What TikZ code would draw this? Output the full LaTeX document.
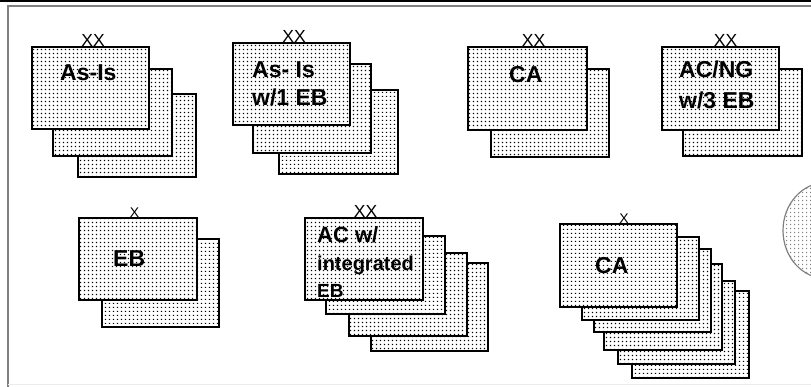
\documentclass[tikz,border=0pt]{standalone}
\usepackage{fontspec}
\setmainfont{Liberation Sans}
\usetikzlibrary{patterns,shapes.geometric}
\pgfdeclarepatternformonly{dotgrid}{\pgfpointorigin}{\pgfpoint{3.6pt}{3.6pt}}{\pgfpoint{3.6pt}{3.6pt}}{%
  \pgfpathrectangle{\pgfpoint{1.1pt}{1.1pt}}{\pgfpoint{1.35pt}{1.35pt}}\pgfusepath{fill}}
\begin{document}
\begin{tikzpicture}[x=1pt,y=-1pt,
  card/.style 2 args={draw=black, line width=1.6pt, preaction={fill=white},
    pattern=dotgrid, pattern color=black, inner sep=0pt, anchor=north west,
    minimum width=#1pt, minimum height=#2pt},
  lbl/.style={font=\fontsize{23}{26}\selectfont\bfseries, inner sep=0pt, anchor=base west},
  sublbl/.style={font=\fontsize{20}{22}\selectfont\bfseries, inner sep=0pt, anchor=base west},
  xxmark/.style={font=\fontsize{17.5}{18}\selectfont, inner sep=0pt, anchor=base},
  xmark/.style={font=\fontsize{14}{14}\selectfont, inner sep=0pt, anchor=base}]
\useasboundingbox (0,0) rectangle (811,386);
\clip (0,0) rectangle (811,386);
% frame
\fill[white] (0,0) rectangle (811,386);
\fill[black] (0,0) rectangle (811,2.3);
\draw[gray, line width=2pt] (8,390) -- (8,6) -- (815,6);
\draw[gray!15, line width=1pt] (8,384.5) -- (815,384.5);
% ellipse at the right edge
\node[ellipse, draw=gray, line width=1.2pt, preaction={fill=white}, pattern=dotgrid,
  pattern color=gray, minimum width=86pt, minimum height=96pt, inner sep=0pt] (ell) at (826,230.5) {};
% group 1: As-Is
\node[card={118}{83}] (a3) at (77,93) {};
\node[card={119}{87}] (a2) at (52,68) {};
\node[card={117}{82}] (a1) at (31,46) {};
\node[xxmark] (ax) at (93,46.5) {XX};
\node[lbl] (al) at (60,80) {As-Is};
% group 2: As-Is w/1 EB
\node[card={119}{84}] (b3) at (278,89) {};
\node[card={118}{89}] (b2) at (252,63) {};
\node[card={117}{82}] (b1) at (232,42) {};
\node[xxmark] (bx) at (294,42.5) {XX};
\node[lbl] (bl1) at (252,77) {As- Is};
\node[lbl] (bl2) at (252,105) {w/1 EB};
% group 3: CA
\node[card={118}{88}] (c2) at (490,68) {};
\node[card={119}{83}] (c1) at (467,46) {};
\node[xxmark] (cx) at (533.5,46.5) {XX};
\node[lbl] (cl) at (509,82) {CA};
% group 4: AC/NG w/3 EB
\node[card={119}{87}] (d2) at (682,68) {};
\node[card={117}{83}] (d1) at (661,46) {};
\node[xxmark] (dx) at (725.5,46.5) {XX};
\node[lbl] (dl1) at (679,77) {AC/NG};
\node[lbl] (dl2) at (679,108) {w/3 EB};
% group 5: EB
\node[card={117}{88}] (e2) at (101,238) {};
\node[card={118}{82}] (e1) at (78,217) {};
\node[xmark] (ex) at (134.5,217.5) {X};
\node[lbl] (el) at (113,266) {EB};
% group 6: AC w/ integrated EB
\node[card={117}{88}] (f4) at (370,262) {};
\node[card={118}{83}] (f3) at (348,252) {};
\node[card={119}{78}] (f2) at (325,235) {};
\node[card={118}{82}] (f1) at (304,217) {};
\node[xxmark] (fx) at (365.5,217.5) {XX};
\node[font=\fontsize{22}{24}\selectfont\bfseries, inner sep=0pt, anchor=base west] (fl1) at (317,242) {AC w/};
\node[sublbl] (fl2) at (317,270) {integrated};
\node[font=\fontsize{19}{20}\selectfont\bfseries, inner sep=0pt, anchor=base west] (fl3) at (317,297.5) {EB};
% group 7: CA (six cards)
\node[card={117}{87}] (g6) at (631,290) {};
\node[card={117}{83}] (g5) at (617,280) {};
\node[card={118}{86}] (g4) at (603,263) {};
\node[card={117}{83}] (g3) at (593,248) {};
\node[card={117}{83}] (g2) at (581,236) {};
\node[card={117}{83}] (g1) at (559,223) {};
\node[xmark] (gx) at (624,223.5) {X};
\node[lbl] (gl) at (595,273) {CA};
\end{tikzpicture}
\end{document}
